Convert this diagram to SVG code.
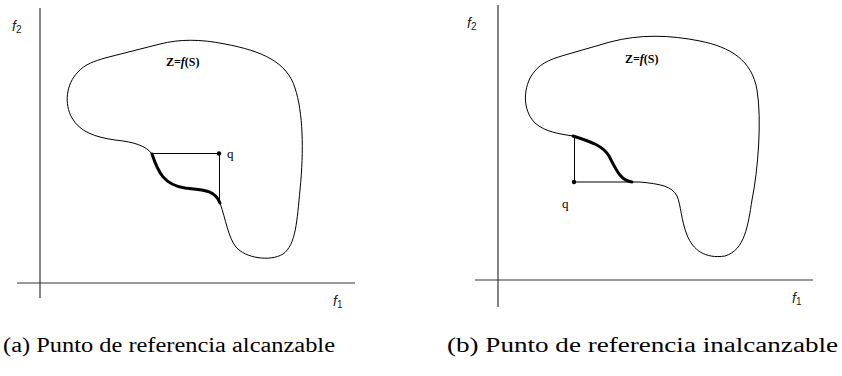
<svg xmlns="http://www.w3.org/2000/svg" width="842" height="376" viewBox="0 0 842 376">
<style>
.axis{stroke:#333;stroke-width:1.2;fill:none}
.blob{stroke:#000;stroke-width:1;fill:none}
.thick{stroke:#000;stroke-width:3;fill:none;stroke-linecap:round}
.thin{stroke:#000;stroke-width:1;fill:none}
.lab{font-family:'Liberation Sans',Arial,sans-serif;font-style:italic;font-size:14px;fill:#222}
.sub{font-style:normal;font-size:10px}
.z{font-family:'Liberation Serif','Times New Roman',serif;font-weight:bold;font-size:12px;fill:#000}
.q{font-family:'Liberation Serif','Times New Roman',serif;font-size:13px;fill:#000}
.cap{font-family:'Liberation Serif','Times New Roman',serif;font-size:20px;fill:#000}
</style>
<g id="panel-a">
  <g id="axes-a">
    <line class="axis" x1="40" y1="8" x2="40" y2="298"/>
    <line class="axis" x1="17" y1="283" x2="355" y2="283"/>
    <text class="lab" x="12" y="31">f<tspan class="sub" dy="2">2</tspan></text>
    <text class="lab" x="333" y="306">f<tspan class="sub" dy="2">1</tspan></text>
  </g>
  <g id="region-a">
    <path class="blob" d="M152,154 C146,146 135,142 115,140 C95,137 80,132 72,118 C64,104 66,84 78,72 C85,64 95,61 105,58 L160,44 C180,39 200,39 225,44 C262,51 287,62 295,88 C303,112 304,150 300,190 C297,220 296,245 283,254 C270,262 245,258 236,247 C228,237 226,220 220,203"/>
    <text class="z" x="166" y="66">Z=<tspan font-style="italic">f</tspan>(S)</text>
  </g>
  <g id="front-a">
    <path class="thick" d="M152,154 C158,172 164,185 185,188 C205,190 215,190 220,203"/>
  </g>
  <g id="q-a">
    <line class="thin" x1="152" y1="153.5" x2="219" y2="153.5"/>
    <line class="thin" x1="219.5" y1="153" x2="219.5" y2="203"/>
    <circle cx="219" cy="153.5" r="2.2" fill="#000"/>
    <text class="q" x="227" y="158">q</text>
  </g>
  <text class="cap" x="3" y="352" textLength="332" lengthAdjust="spacingAndGlyphs">(a) Punto de referencia alcanzable</text>
</g>
<g id="panel-b">
  <g id="axes-b">
    <line class="axis" x1="498" y1="5" x2="498" y2="307"/>
    <line class="axis" x1="475" y1="280" x2="813" y2="280"/>
    <text class="lab" x="467" y="28">f<tspan class="sub" dy="2">2</tspan></text>
    <text class="lab" x="792" y="303">f<tspan class="sub" dy="2">1</tspan></text>
  </g>
  <g id="region-b">
    <path class="blob" d="M573,136 C560,134 545,132 535,123 C525,113 522,95 530,78 C538,64 548,60 565,55 L610,42 C640,34 670,35 700,41 C730,47 752,60 757,90 C762,120 758,170 752,200 C748,225 745,250 725,256 C705,259 693,250 687,235 C681,220 681,205 677,196 C672,186 660,184 640,182 L632,182"/>
    <text class="z" x="625" y="63">Z=<tspan font-style="italic">f</tspan>(S)</text>
  </g>
  <g id="front-b">
    <path class="thick" d="M573,136 C592,142 603,146 609,156 C615,167 620,181 632,182"/>
  </g>
  <g id="q-b">
    <line class="thin" x1="574.5" y1="136" x2="574.5" y2="182"/>
    <line class="thin" x1="574" y1="182" x2="632" y2="182"/>
    <circle cx="574" cy="182" r="2.2" fill="#000"/>
    <text class="q" x="562" y="208">q</text>
  </g>
  <text class="cap" x="447" y="352" textLength="391" lengthAdjust="spacingAndGlyphs">(b) Punto de referencia inalcanzable</text>
</g>
</svg>
